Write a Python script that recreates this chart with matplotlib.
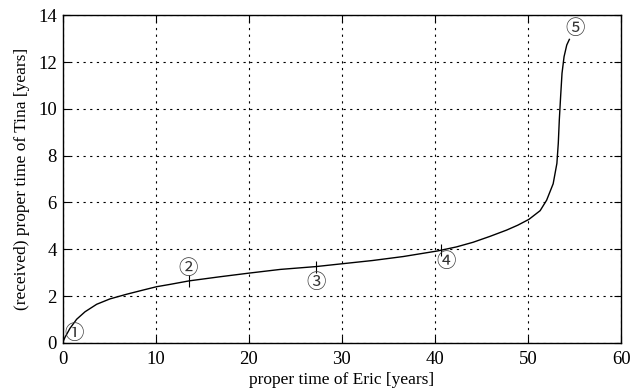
import numpy as np
import matplotlib.pyplot as plt

# curve: Eric's proper time vs received proper time of Tina
eric = [0.0, 0.27, 0.8, 1.52, 2.42, 3.67, 5.1, 6.9, 8.68, 10.1, 11.55, 13.6,
        16.8, 20.0, 23.4, 27.2, 30.0, 33.3, 36.6, 40.3, 42.3, 44.1, 45.9, 47.7,
        48.9, 50.1, 51.3, 52.0, 52.7, 53.1, 53.25, 53.36, 53.5, 53.65, 53.87,
        54.16, 54.44]
tina = [0.0, 0.24, 0.62, 1.01, 1.33, 1.65, 1.88, 2.08, 2.26, 2.4, 2.5, 2.65,
        2.82, 2.98, 3.14, 3.26, 3.38, 3.52, 3.69, 3.93, 4.1, 4.3, 4.55, 4.82,
        5.03, 5.28, 5.65, 6.1, 6.8, 7.67, 8.53, 9.53, 10.52, 11.52, 12.23,
        12.73, 12.97]

# event markers (short vertical ticks) and circled labels
tick_x = [13.6, 27.2, 40.6]
tick_y = [2.65, 3.26, 3.96]
lab_text = ['\u2460', '\u2461', '\u2462', '\u2463', '\u2464']
lab_x = [1.3, 13.5, 27.2, 41.2, 55.1]
lab_y = [0.42, 3.2, 2.56, 3.46, 13.45]

plt.rcParams['font.family'] = ['Liberation Serif', 'DejaVu Sans']

fig = plt.figure(figsize=(6.34, 3.92), dpi=100)
ax = fig.add_axes([0.0986, 0.1253, 0.8811, 0.8357])

ax.plot(eric, tina, color='black', lw=1.0)
ax.plot(tick_x, tick_y, ls='none', marker='|', ms=8, mew=0.8, color='black')
for t, x, y in zip(lab_text, lab_x, lab_y):
    ax.text(x, y, t, ha='center', va='center', fontsize=14,
            family=['Noto Sans CJK JP', 'DejaVu Sans'], color='#333333')

ax.set_xlim(0, 60)
ax.set_ylim(0, 14)
ax.set_xticks(np.arange(0, 61, 10))
ax.set_yticks(np.arange(0, 15, 2))
ax.grid(True, color='black', ls=(0, (2, 4)), lw=0.8)
ax.tick_params(direction='in', top=True, right=True, labelsize=13.5, length=5,
               width=0.8)
ax.tick_params(axis='x', pad=6)
ax.tick_params(axis='y', pad=4)
for s in ax.spines.values():
    s.set_linewidth(1.0)

ax.set_xlabel('proper time of Eric [years]', fontsize=12.5, labelpad=3)
ax.set_ylabel('(received) proper time of Tina [years]', fontsize=12.5, labelpad=6)

fig.savefig('out.png', dpi=100)
